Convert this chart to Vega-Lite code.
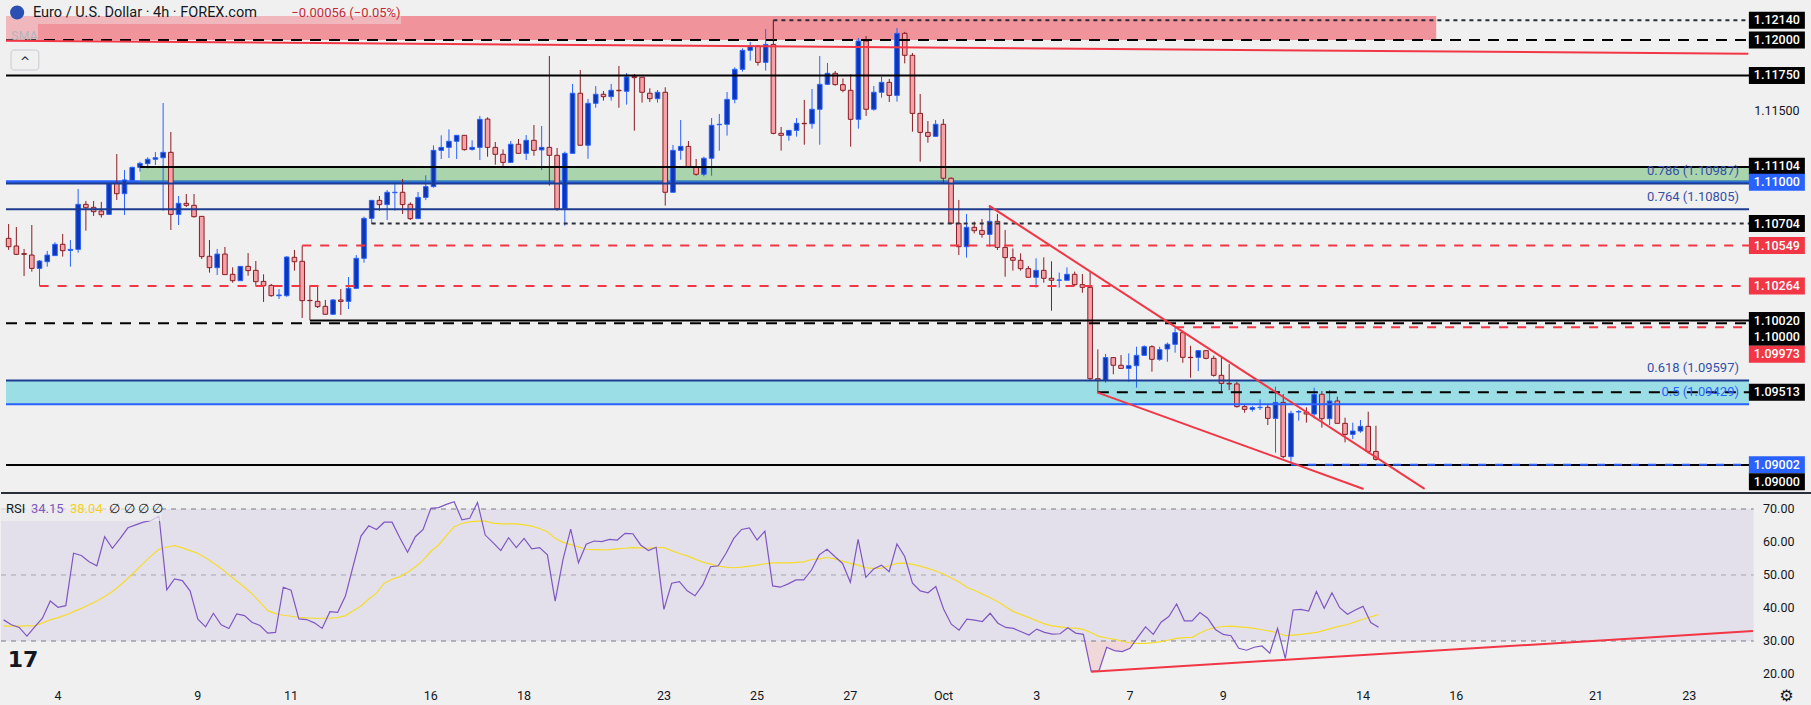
{
"$schema":"https://vega.github.io/schema/vega-lite/v6.json",
"background":"#f0f0f0",
"padding":0,
"spacing":0,
"config":{"view":{"stroke":null},"axis":{"disable":true},"text":{"font":"Roboto"}},
"datasets":{
"candles":[
{"t":-7,"o":1.106,"h":1.10701,"l":1.10518,"c":1.10541},{"t":-6,"o":1.10546,"h":1.1068,"l":1.10482,"c":1.10487},{"t":-5,"o":1.10492,"h":1.10525,"l":1.10334,"c":1.10487},{"t":-4,"o":1.10482,"h":1.10694,"l":1.10365,"c":1.10388},{"t":-3,"o":1.10388,"h":1.10447,"l":1.10264,"c":1.1044},{"t":-2,"o":1.10435,"h":1.10511,"l":1.104,"c":1.10482},{"t":-1,"o":1.10478,"h":1.10572,"l":1.10478,"c":1.10558},{"t":0,"o":1.10558,"h":1.10631,"l":1.10471,"c":1.10513},{"t":1,"o":1.10515,"h":1.10588,"l":1.104,"c":1.10522},{"t":2,"o":1.10522,"h":1.10948,"l":1.10499,"c":1.1084},{"t":3,"o":1.1084,"h":1.10864,"l":1.10654,"c":1.10816},{"t":4,"o":1.10819,"h":1.10864,"l":1.10758,"c":1.10788},{"t":5,"o":1.10793,"h":1.10857,"l":1.10746,"c":1.10767},{"t":6,"o":1.10769,"h":1.11,"l":1.10769,"c":1.10988},{"t":7,"o":1.10988,"h":1.11195,"l":1.10871,"c":1.10915},{"t":8,"o":1.10915,"h":1.11082,"l":1.10765,"c":1.11012},{"t":9,"o":1.11009,"h":1.11106,"l":1.11009,"c":1.11101},{"t":10,"o":1.11101,"h":1.11141,"l":1.11071,"c":1.11129},{"t":11,"o":1.11127,"h":1.11172,"l":1.11094,"c":1.11158},{"t":12,"o":1.11158,"h":1.11209,"l":1.11118,"c":1.11169},{"t":13,"o":1.11169,"h":1.11555,"l":1.10795,"c":1.11207},{"t":14,"o":1.11207,"h":1.11351,"l":1.10659,"c":1.10769},{"t":15,"o":1.10769,"h":1.10899,"l":1.10694,"c":1.10847},{"t":16,"o":1.10847,"h":1.10913,"l":1.10821,"c":1.10833},{"t":17,"o":1.10833,"h":1.10913,"l":1.10746,"c":1.10753},{"t":18,"o":1.10755,"h":1.10755,"l":1.10454,"c":1.10471},{"t":19,"o":1.10473,"h":1.10588,"l":1.10358,"c":1.10393},{"t":20,"o":1.10393,"h":1.10525,"l":1.10341,"c":1.10489},{"t":21,"o":1.10489,"h":1.10539,"l":1.10344,"c":1.10344},{"t":22,"o":1.10346,"h":1.10395,"l":1.10287,"c":1.10301},{"t":23,"o":1.10301,"h":1.10402,"l":1.10301,"c":1.10402},{"t":24,"o":1.10402,"h":1.10496,"l":1.10336,"c":1.10372},{"t":25,"o":1.10374,"h":1.1044,"l":1.10266,"c":1.10294},{"t":26,"o":1.10296,"h":1.10346,"l":1.10151,"c":1.10266},{"t":27,"o":1.10268,"h":1.10278,"l":1.10188,"c":1.10195},{"t":28,"o":1.10195,"h":1.10242,"l":1.10172,"c":1.102},{"t":29,"o":1.10195,"h":1.10475,"l":1.10188,"c":1.10468},{"t":30,"o":1.10466,"h":1.10518,"l":1.10372,"c":1.10435},{"t":31,"o":1.10438,"h":1.10548,"l":1.10038,"c":1.1016},{"t":32,"o":1.10162,"h":1.10266,"l":1.10024,"c":1.1016},{"t":33,"o":1.10155,"h":1.10264,"l":1.10108,"c":1.10118},{"t":34,"o":1.1012,"h":1.10165,"l":1.10059,"c":1.10064},{"t":35,"o":1.10064,"h":1.10172,"l":1.10059,"c":1.10165},{"t":36,"o":1.10165,"h":1.10242,"l":1.10059,"c":1.10155},{"t":37,"o":1.10155,"h":1.10327,"l":1.10101,"c":1.10247},{"t":38,"o":1.10247,"h":1.10482,"l":1.10247,"c":1.10459},{"t":39,"o":1.10459,"h":1.10753,"l":1.10428,"c":1.10741},{"t":40,"o":1.10741,"h":1.10868,"l":1.10701,"c":1.10868},{"t":41,"o":1.10868,"h":1.10899,"l":1.10795,"c":1.10838},{"t":42,"o":1.10838,"h":1.10941,"l":1.10729,"c":1.10925},{"t":43,"o":1.10922,"h":1.11,"l":1.10795,"c":1.10925},{"t":44,"o":1.10925,"h":1.11019,"l":1.10772,"c":1.10838},{"t":45,"o":1.1084,"h":1.10854,"l":1.10729,"c":1.10739},{"t":46,"o":1.10739,"h":1.10927,"l":1.10739,"c":1.10889},{"t":47,"o":1.10889,"h":1.11045,"l":1.1087,"c":1.10965},{"t":48,"o":1.10965,"h":1.11256,"l":1.10958,"c":1.11221},{"t":49,"o":1.11221,"h":1.11327,"l":1.1116,"c":1.11242},{"t":50,"o":1.11242,"h":1.11369,"l":1.11167,"c":1.11285},{"t":51,"o":1.11285,"h":1.11327,"l":1.1116,"c":1.11327},{"t":52,"o":1.11327,"h":1.11327,"l":1.11219,"c":1.11226},{"t":53,"o":1.11228,"h":1.11292,"l":1.11219,"c":1.11242},{"t":54,"o":1.11242,"h":1.11464,"l":1.11153,"c":1.1144},{"t":55,"o":1.11442,"h":1.11454,"l":1.11176,"c":1.11242},{"t":56,"o":1.11242,"h":1.1128,"l":1.1112,"c":1.11193},{"t":57,"o":1.11193,"h":1.11228,"l":1.11111,"c":1.11136},{"t":58,"o":1.11136,"h":1.11287,"l":1.11136,"c":1.11264},{"t":59,"o":1.11264,"h":1.11301,"l":1.112,"c":1.112},{"t":60,"o":1.112,"h":1.11329,"l":1.11153,"c":1.11292},{"t":61,"o":1.11292,"h":1.114,"l":1.11183,"c":1.11221},{"t":62,"o":1.11224,"h":1.11393,"l":1.11082,"c":1.11242},{"t":63,"o":1.11242,"h":1.11887,"l":1.10972,"c":1.11186},{"t":64,"o":1.11186,"h":1.11238,"l":1.10795,"c":1.10809},{"t":65,"o":1.10809,"h":1.11212,"l":1.10689,"c":1.112},{"t":66,"o":1.112,"h":1.1169,"l":1.112,"c":1.11624},{"t":67,"o":1.11624,"h":1.11788,"l":1.11257,"c":1.11257},{"t":68,"o":1.11257,"h":1.11584,"l":1.11162,"c":1.11553},{"t":69,"o":1.11553,"h":1.11675,"l":1.11522,"c":1.11617},{"t":70,"o":1.11617,"h":1.1164,"l":1.11572,"c":1.116},{"t":71,"o":1.116,"h":1.1169,"l":1.11572,"c":1.11645},{"t":72,"o":1.11645,"h":1.11817,"l":1.11522,"c":1.11642},{"t":73,"o":1.11638,"h":1.11767,"l":1.11544,"c":1.11739},{"t":74,"o":1.11741,"h":1.1176,"l":1.1136,"c":1.11734},{"t":75,"o":1.11737,"h":1.11737,"l":1.11558,"c":1.11631},{"t":76,"o":1.11624,"h":1.11659,"l":1.11562,"c":1.11586},{"t":77,"o":1.11586,"h":1.11647,"l":1.11558,"c":1.11631},{"t":78,"o":1.11631,"h":1.11666,"l":1.10831,"c":1.10925},{"t":79,"o":1.10925,"h":1.11259,"l":1.10925,"c":1.11221},{"t":80,"o":1.11221,"h":1.11435,"l":1.11155,"c":1.11249},{"t":81,"o":1.11249,"h":1.11287,"l":1.11106,"c":1.11106},{"t":82,"o":1.11106,"h":1.1116,"l":1.11042,"c":1.11052},{"t":83,"o":1.11052,"h":1.11176,"l":1.11038,"c":1.11165},{"t":84,"o":1.11165,"h":1.11449,"l":1.11042,"c":1.11398},{"t":85,"o":1.11402,"h":1.11478,"l":1.11219,"c":1.11405},{"t":86,"o":1.11405,"h":1.11633,"l":1.11325,"c":1.11581},{"t":87,"o":1.11581,"h":1.11807,"l":1.11553,"c":1.11793},{"t":88,"o":1.11793,"h":1.11941,"l":1.11777,"c":1.11927},{"t":89,"o":1.11927,"h":1.11986,"l":1.11854,"c":1.11958},{"t":90,"o":1.11958,"h":1.11965,"l":1.11819,"c":1.11842},{"t":91,"o":1.11842,"h":1.12078,"l":1.11784,"c":1.11969},{"t":92,"o":1.11969,"h":1.1214,"l":1.11334,"c":1.11341},{"t":93,"o":1.11341,"h":1.11386,"l":1.11219,"c":1.11327},{"t":94,"o":1.11327,"h":1.11362,"l":1.11289,"c":1.11362},{"t":95,"o":1.11362,"h":1.11449,"l":1.11318,"c":1.11412},{"t":96,"o":1.11412,"h":1.11577,"l":1.11261,"c":1.11409},{"t":97,"o":1.11409,"h":1.11654,"l":1.11374,"c":1.11511},{"t":98,"o":1.11511,"h":1.11887,"l":1.11261,"c":1.11687},{"t":99,"o":1.11687,"h":1.11838,"l":1.11682,"c":1.11765},{"t":100,"o":1.11765,"h":1.11781,"l":1.11678,"c":1.11685},{"t":101,"o":1.11685,"h":1.11729,"l":1.11631,"c":1.11645},{"t":102,"o":1.11645,"h":1.11758,"l":1.11247,"c":1.1144},{"t":103,"o":1.1144,"h":1.12014,"l":1.11374,"c":1.11993},{"t":104,"o":1.11993,"h":1.12028,"l":1.11464,"c":1.11511},{"t":105,"o":1.11511,"h":1.11675,"l":1.11501,"c":1.11631},{"t":106,"o":1.11631,"h":1.11741,"l":1.11593,"c":1.11701},{"t":107,"o":1.11701,"h":1.11725,"l":1.11562,"c":1.11609},{"t":108,"o":1.11609,"h":1.12085,"l":1.11565,"c":1.12047},{"t":109,"o":1.12047,"h":1.12057,"l":1.11835,"c":1.11892},{"t":110,"o":1.11892,"h":1.11908,"l":1.11353,"c":1.11482},{"t":111,"o":1.11482,"h":1.11619,"l":1.11141,"c":1.11348},{"t":112,"o":1.11348,"h":1.11428,"l":1.11275,"c":1.1132},{"t":113,"o":1.1132,"h":1.11435,"l":1.11318,"c":1.11405},{"t":114,"o":1.11405,"h":1.11442,"l":1.10984,"c":1.11024},{"t":115,"o":1.11024,"h":1.1103,"l":1.107,"c":1.10706},{"t":116,"o":1.10706,"h":1.10871,"l":1.10482,"c":1.10541},{"t":117,"o":1.10541,"h":1.10772,"l":1.10464,"c":1.10678},{"t":118,"o":1.10678,"h":1.10718,"l":1.10635,"c":1.10654},{"t":119,"o":1.10656,"h":1.10736,"l":1.10605,"c":1.10628},{"t":120,"o":1.10628,"h":1.10831,"l":1.10541,"c":1.1072},{"t":121,"o":1.1072,"h":1.10772,"l":1.10518,"c":1.10536},{"t":122,"o":1.10536,"h":1.10659,"l":1.10329,"c":1.10464},{"t":123,"o":1.10464,"h":1.10529,"l":1.10372,"c":1.10445},{"t":124,"o":1.10445,"h":1.10494,"l":1.10372,"c":1.10386},{"t":125,"o":1.10386,"h":1.10405,"l":1.10325,"c":1.10325},{"t":126,"o":1.10325,"h":1.10459,"l":1.10252,"c":1.10374},{"t":127,"o":1.10374,"h":1.10466,"l":1.10287,"c":1.10318},{"t":128,"o":1.10318,"h":1.10438,"l":1.10089,"c":1.10304},{"t":129,"o":1.10304,"h":1.10358,"l":1.10252,"c":1.10306},{"t":130,"o":1.10304,"h":1.10395,"l":1.10304,"c":1.10346},{"t":131,"o":1.10346,"h":1.10365,"l":1.10264,"c":1.10273},{"t":132,"o":1.10273,"h":1.10348,"l":1.10216,"c":1.10254},{"t":133,"o":1.10254,"h":1.10365,"l":1.096,"c":1.09609},{"t":134,"o":1.09609,"h":1.09816,"l":1.09513,"c":1.09598},{"t":135,"o":1.09598,"h":1.09784,"l":1.09581,"c":1.09758},{"t":136,"o":1.09758,"h":1.09758,"l":1.0964,"c":1.09704},{"t":137,"o":1.09704,"h":1.09776,"l":1.09682,"c":1.09682},{"t":138,"o":1.09682,"h":1.09788,"l":1.09588,"c":1.09701},{"t":139,"o":1.09701,"h":1.09835,"l":1.09546,"c":1.09774},{"t":140,"o":1.09774,"h":1.09845,"l":1.09772,"c":1.09835},{"t":141,"o":1.09835,"h":1.09845,"l":1.09659,"c":1.09746},{"t":142,"o":1.09746,"h":1.09835,"l":1.09736,"c":1.09814},{"t":143,"o":1.09819,"h":1.09864,"l":1.09729,"c":1.09852},{"t":144,"o":1.09852,"h":1.09973,"l":1.09793,"c":1.09934},{"t":145,"o":1.09934,"h":1.09948,"l":1.09722,"c":1.0976},{"t":146,"o":1.0976,"h":1.09842,"l":1.09616,"c":1.09758},{"t":147,"o":1.0976,"h":1.09812,"l":1.09663,"c":1.09807},{"t":148,"o":1.09807,"h":1.09812,"l":1.09746,"c":1.09753},{"t":149,"o":1.09753,"h":1.09772,"l":1.09624,"c":1.09633},{"t":150,"o":1.09633,"h":1.09765,"l":1.09518,"c":1.09576},{"t":151,"o":1.09576,"h":1.09713,"l":1.09529,"c":1.09572},{"t":152,"o":1.09572,"h":1.09588,"l":1.09405,"c":1.09412},{"t":153,"o":1.09412,"h":1.09428,"l":1.09369,"c":1.09393},{"t":154,"o":1.09393,"h":1.09416,"l":1.09377,"c":1.09405},{"t":155,"o":1.09405,"h":1.09464,"l":1.09388,"c":1.09407},{"t":156,"o":1.09407,"h":1.09423,"l":1.09282,"c":1.09329},{"t":157,"o":1.09329,"h":1.09553,"l":1.09087,"c":1.09442},{"t":158,"o":1.09442,"h":1.09501,"l":1.09047,"c":1.09059},{"t":159,"o":1.09059,"h":1.09383,"l":1.09002,"c":1.09365},{"t":160,"o":1.09374,"h":1.09388,"l":1.09313,"c":1.09377},{"t":161,"o":1.09374,"h":1.09407,"l":1.09299,"c":1.0936},{"t":162,"o":1.0936,"h":1.09546,"l":1.09329,"c":1.09499},{"t":163,"o":1.09499,"h":1.09522,"l":1.09264,"c":1.09327},{"t":164,"o":1.09327,"h":1.09529,"l":1.09282,"c":1.09452},{"t":165,"o":1.09452,"h":1.09482,"l":1.09294,"c":1.09294},{"t":166,"o":1.09294,"h":1.09334,"l":1.0916,"c":1.09216},{"t":167,"o":1.09216,"h":1.09299,"l":1.09183,"c":1.0924},{"t":168,"o":1.0924,"h":1.09318,"l":1.09228,"c":1.09273},{"t":169,"o":1.09273,"h":1.09376,"l":1.09082,"c":1.09096},{"t":170,"o":1.09096,"h":1.09277,"l":1.09031,"c":1.0904}
],
"rsi":[
{"t":-7,"rsi":36.4,"ma":34.5},{"t":-6,"rsi":34.9,"ma":34.5},{"t":-5,"rsi":34.1,"ma":34.5},{"t":-4,"rsi":31.5,"ma":34.6},{"t":-3,"rsi":34.3,"ma":34.6},{"t":-2,"rsi":36.9,"ma":35.5},{"t":-1,"rsi":42.1,"ma":36.4},{"t":0,"rsi":40.2,"ma":37.1},{"t":1,"rsi":40.7,"ma":37.9},{"t":2,"rsi":56.6,"ma":38.9},{"t":3,"rsi":55.9,"ma":39.9},{"t":4,"rsi":54.0,"ma":41.0},{"t":5,"rsi":52.8,"ma":42.1},{"t":6,"rsi":61.6,"ma":43.5},{"t":7,"rsi":58.1,"ma":45.0},{"t":8,"rsi":61.1,"ma":46.9},{"t":9,"rsi":64.3,"ma":49.0},{"t":10,"rsi":65.2,"ma":51.3},{"t":11,"rsi":66.0,"ma":53.6},{"t":12,"rsi":66.5,"ma":55.8},{"t":13,"rsi":67.8,"ma":57.8},{"t":14,"rsi":45.5,"ma":58.4},{"t":15,"rsi":48.8,"ma":58.9},{"t":16,"rsi":48.3,"ma":58.2},{"t":17,"rsi":45.2,"ma":57.4},{"t":18,"rsi":36.6,"ma":56.5},{"t":19,"rsi":34.3,"ma":55.2},{"t":20,"rsi":38.4,"ma":53.6},{"t":21,"rsi":34.9,"ma":52.0},{"t":22,"rsi":33.8,"ma":50.1},{"t":23,"rsi":38.2,"ma":48.2},{"t":24,"rsi":37.7,"ma":46.3},{"t":25,"rsi":35.6,"ma":44.2},{"t":26,"rsi":34.7,"ma":41.8},{"t":27,"rsi":32.4,"ma":39.2},{"t":28,"rsi":32.6,"ma":38.3},{"t":29,"rsi":46.3,"ma":37.8},{"t":30,"rsi":45.4,"ma":37.5},{"t":31,"rsi":36.7,"ma":37.2},{"t":32,"rsi":36.5,"ma":37.0},{"t":33,"rsi":35.5,"ma":36.9},{"t":34,"rsi":33.8,"ma":36.9},{"t":35,"rsi":38.9,"ma":36.9},{"t":36,"rsi":38.7,"ma":37.1},{"t":37,"rsi":43.6,"ma":37.7},{"t":38,"rsi":52.8,"ma":39.2},{"t":39,"rsi":61.8,"ma":40.6},{"t":40,"rsi":64.9,"ma":42.7},{"t":41,"rsi":63.8,"ma":44.5},{"t":42,"rsi":66.0,"ma":47.5},{"t":43,"rsi":66.0,"ma":48.7},{"t":44,"rsi":61.3,"ma":49.5},{"t":45,"rsi":56.9,"ma":50.8},{"t":46,"rsi":61.6,"ma":52.5},{"t":47,"rsi":63.8,"ma":54.5},{"t":48,"rsi":70.2,"ma":57.2},{"t":49,"rsi":70.4,"ma":59.1},{"t":50,"rsi":71.4,"ma":62.0},{"t":51,"rsi":72.2,"ma":64.6},{"t":52,"rsi":66.7,"ma":65.6},{"t":53,"rsi":67.2,"ma":66.1},{"t":54,"rsi":72.0,"ma":66.3},{"t":55,"rsi":62.1,"ma":66.3},{"t":56,"rsi":59.8,"ma":65.7},{"t":57,"rsi":57.4,"ma":65.5},{"t":58,"rsi":61.3,"ma":65.5},{"t":59,"rsi":58.3,"ma":65.5},{"t":60,"rsi":61.1,"ma":65.2},{"t":61,"rsi":57.9,"ma":64.8},{"t":62,"rsi":58.3,"ma":64.1},{"t":63,"rsi":56.1,"ma":63.1},{"t":64,"rsi":42.1,"ma":61.1},{"t":65,"rsi":54.6,"ma":59.9},{"t":66,"rsi":63.9,"ma":59.2},{"t":67,"rsi":53.7,"ma":58.5},{"t":68,"rsi":59.3,"ma":57.8},{"t":69,"rsi":60.3,"ma":57.7},{"t":70,"rsi":60.1,"ma":57.6},{"t":71,"rsi":60.8,"ma":57.7},{"t":72,"rsi":60.6,"ma":57.9},{"t":73,"rsi":62.6,"ma":58.1},{"t":74,"rsi":62.5,"ma":58.3},{"t":75,"rsi":59.1,"ma":58.2},{"t":76,"rsi":57.4,"ma":58.1},{"t":77,"rsi":58.4,"ma":58.3},{"t":78,"rsi":39.6,"ma":58.3},{"t":79,"rsi":47.5,"ma":57.4},{"t":80,"rsi":48.0,"ma":56.5},{"t":81,"rsi":45.2,"ma":55.8},{"t":82,"rsi":43.7,"ma":54.8},{"t":83,"rsi":47.0,"ma":53.9},{"t":84,"rsi":52.5,"ma":53.3},{"t":85,"rsi":52.8,"ma":52.7},{"t":86,"rsi":56.6,"ma":52.4},{"t":87,"rsi":61.1,"ma":52.2},{"t":88,"rsi":63.8,"ma":52.4},{"t":89,"rsi":64.3,"ma":52.7},{"t":90,"rsi":60.6,"ma":53.0},{"t":91,"rsi":63.3,"ma":53.4},{"t":92,"rsi":46.7,"ma":53.7},{"t":93,"rsi":46.3,"ma":53.7},{"t":94,"rsi":47.3,"ma":53.7},{"t":95,"rsi":48.5,"ma":53.8},{"t":96,"rsi":48.5,"ma":54.0},{"t":97,"rsi":51.5,"ma":54.7},{"t":98,"rsi":56.1,"ma":54.9},{"t":99,"rsi":57.8,"ma":55.3},{"t":100,"rsi":55.6,"ma":54.9},{"t":101,"rsi":53.5,"ma":54.2},{"t":102,"rsi":47.8,"ma":53.5},{"t":103,"rsi":60.8,"ma":53.0},{"t":104,"rsi":49.3,"ma":52.2},{"t":105,"rsi":51.8,"ma":52.0},{"t":106,"rsi":53.0,"ma":52.1},{"t":107,"rsi":51.0,"ma":52.8},{"t":108,"rsi":59.4,"ma":53.5},{"t":109,"rsi":55.6,"ma":53.6},{"t":110,"rsi":47.5,"ma":53.2},{"t":111,"rsi":45.2,"ma":52.7},{"t":112,"rsi":44.6,"ma":52.0},{"t":113,"rsi":46.5,"ma":51.2},{"t":114,"rsi":39.7,"ma":50.3},{"t":115,"rsi":35.1,"ma":49.1},{"t":116,"rsi":33.3,"ma":47.9},{"t":117,"rsi":36.6,"ma":46.3},{"t":118,"rsi":36.3,"ma":45.3},{"t":119,"rsi":35.9,"ma":44.2},{"t":120,"rsi":38.4,"ma":43.1},{"t":121,"rsi":35.4,"ma":41.9},{"t":122,"rsi":34.1,"ma":40.4},{"t":123,"rsi":33.8,"ma":38.9},{"t":124,"rsi":32.8,"ma":38.0},{"t":125,"rsi":31.8,"ma":37.1},{"t":126,"rsi":33.6,"ma":36.1},{"t":127,"rsi":32.6,"ma":35.2},{"t":128,"rsi":32.1,"ma":34.6},{"t":129,"rsi":32.2,"ma":34.3},{"t":130,"rsi":34.0,"ma":34.0},{"t":131,"rsi":32.4,"ma":33.9},{"t":132,"rsi":32.0,"ma":33.5},{"t":133,"rsi":20.9,"ma":32.5},{"t":134,"rsi":20.9,"ma":31.4},{"t":135,"rsi":28.1,"ma":30.9},{"t":136,"rsi":27.1,"ma":30.5},{"t":137,"rsi":26.8,"ma":30.0},{"t":138,"rsi":27.8,"ma":29.4},{"t":139,"rsi":31.1,"ma":29.3},{"t":140,"rsi":34.3,"ma":29.3},{"t":141,"rsi":32.0,"ma":29.5},{"t":142,"rsi":35.7,"ma":29.8},{"t":143,"rsi":37.4,"ma":30.3},{"t":144,"rsi":41.2,"ma":30.8},{"t":145,"rsi":36.1,"ma":31.0},{"t":146,"rsi":36.1,"ma":31.1},{"t":147,"rsi":38.6,"ma":32.4},{"t":148,"rsi":36.9,"ma":33.5},{"t":149,"rsi":33.5,"ma":34.1},{"t":150,"rsi":32.0,"ma":34.4},{"t":151,"rsi":31.6,"ma":34.5},{"t":152,"rsi":27.8,"ma":34.3},{"t":153,"rsi":27.2,"ma":34.1},{"t":154,"rsi":28.1,"ma":33.8},{"t":155,"rsi":28.5,"ma":33.4},{"t":156,"rsi":26.3,"ma":33.0},{"t":157,"rsi":33.8,"ma":32.5},{"t":158,"rsi":24.7,"ma":31.6},{"t":159,"rsi":39.4,"ma":31.8},{"t":160,"rsi":39.6,"ma":32.0},{"t":161,"rsi":39.1,"ma":32.3},{"t":162,"rsi":45.0,"ma":32.6},{"t":163,"rsi":39.9,"ma":33.2},{"t":164,"rsi":44.6,"ma":33.9},{"t":165,"rsi":40.1,"ma":34.5},{"t":166,"rsi":38.1,"ma":35.0},{"t":167,"rsi":39.4,"ma":35.8},{"t":168,"rsi":40.5,"ma":36.6},{"t":169,"rsi":35.6,"ma":37.3},{"t":170,"rsi":34.15,"ma":38.04}
],
"os":[{"t":132.2,"r":30},{"t":133,"r":20.9},{"t":134,"r":20.9},{"t":135,"r":28.1},{"t":136,"r":27.1},{"t":137,"r":26.8},{"t":138,"r":27.8},{"t":138.7,"r":30}],
"zones":[{"name":"supply","t1":-7.34,"t2":177.8,"p1":1.12,"p2":1.1217},{"name":"green","t1":10,"t2":218.3,"p1":1.11,"p2":1.11104},{"name":"cyan","t1":-7.34,"t2":218.3,"p1":1.09429,"p2":1.09597}],
"linesUnder":[{"kind":"blue","p":1.11,"t1":-7.34,"t2":218.3}],
"lines":[
{"kind":"solid","p":1.1175,"t1":-7.34,"t2":218.3},{"kind":"solid","p":1.11104,"t1":10,"t2":218.3},{"kind":"solid","p":1.1002,"t1":32,"t2":218.3},{"kind":"solid","p":1.09,"t1":-7.34,"t2":218.3},
{"kind":"major","p":1.12,"t1":-7.34,"t2":218.3},{"kind":"major","p":1.1,"t1":-7.34,"t2":218.3},{"kind":"major","p":1.09513,"t1":134,"t2":218.3},
{"kind":"minor","p":1.10704,"t1":40,"t2":218.3},{"kind":"minor","p":1.1214,"t1":92,"t2":218.3},
{"kind":"resist","p":1.10549,"t1":31,"t2":218.3},{"kind":"resist","p":1.10264,"t1":-3,"t2":218.3},{"kind":"resist","p":1.09973,"t1":144,"t2":218.3},
{"kind":"fibLine","p":1.10987,"t1":-7.34,"t2":218.3},{"kind":"fibLine","p":1.10805,"t1":-7.34,"t2":218.3},{"kind":"fibLine","p":1.09597,"t1":-7.34,"t2":218.3},
{"kind":"fibMid","p":1.09429,"t1":-7.34,"t2":218.3},
{"kind":"support","p":1.09002,"t1":159,"t2":218.3}
],
"trends":[{"name":"top","t1":-7.34,"p1":1.11995,"t2":218.2,"p2":1.11903},{"name":"upper","t1":119.9,"p1":1.10831,"t2":176.3,"p2":1.08831},{"name":"lower","t1":133.9,"p1":1.09513,"t2":168.4,"p2":1.08831}],
"fibs":[{"lvl":"0.786","label":"0.786 (1.10987)","p":1.10987},{"lvl":"0.764","label":"0.764 (1.10805)","p":1.10805},{"lvl":"0.618","label":"0.618 (1.09597)","p":1.09597},{"lvl":"0.5","label":"0.5 (1.09429)","p":1.09429}],
"prices":[
{"label":"1.12140","p":1.1214,"kind":"level"},{"label":"1.12000","p":1.12,"kind":"level"},{"label":"1.11750","p":1.1175,"kind":"level"},{"label":"1.11104","p":1.11108,"kind":"level"},{"label":"1.11000","p":1.10996,"kind":"blue"},{"label":"1.10704","p":1.10704,"kind":"level"},{"label":"1.10549","p":1.10549,"kind":"red"},{"label":"1.10264","p":1.10264,"kind":"red"},{"label":"1.10020","p":1.1002,"kind":"level"},{"label":"1.10000","p":1.09901,"kind":"level"},{"label":"1.09973","p":1.09781,"kind":"red"},{"label":"1.09513","p":1.09513,"kind":"level"},{"label":"1.09002","p":1.09002,"kind":"blue"},{"label":"1.09000","p":1.08882,"kind":"level"}
],
"rsiTicks":[{"v":70,"label":"70.00"},{"v":60,"label":"60.00"},{"v":50,"label":"50.00"},{"v":40,"label":"40.00"},{"v":30,"label":"30.00"},{"v":20,"label":"20.00"}],
"dates":[{"t":0,"label":"4"},{"t":18,"label":"9"},{"t":30,"label":"11"},{"t":48,"label":"16"},{"t":60,"label":"18"},{"t":78,"label":"23"},{"t":90,"label":"25"},{"t":102,"label":"27"},{"t":114,"label":"Oct"},{"t":126,"label":"3"},{"t":138,"label":"7"},{"t":150,"label":"9"},{"t":168,"label":"14"},{"t":180,"label":"16"},{"t":198,"label":"21"},{"t":210,"label":"23"}]
},
"vconcat":[
{"width":1811,"height":490,
"resolve":{"scale":{"color":"independent","fill":"independent","fillOpacity":"independent","strokeWidth":"independent","strokeDash":"independent"}},
"layer":[
{"data":{"name":"linesUnder"},"mark":{"type":"rule","strokeWidth":3,"color":"#2962ff"},
 "encoding":{"x":{"field":"t1","type":"quantitative","scale":{"domain":[-7.34,225.8],"nice":false,"zero":false},"axis":null},"x2":{"field":"t2"},"y":{"field":"p","type":"quantitative","scale":{"domain":[1.088236,1.122823],"nice":false,"zero":false},"axis":null}}},
{"data":{"name":"zones"},"mark":{"type":"rect"},
 "encoding":{"x":{"field":"t1","type":"quantitative","scale":{"domain":[-7.34,225.8],"nice":false,"zero":false},"axis":null},"x2":{"field":"t2"},"y":{"field":"p1","type":"quantitative","scale":{"domain":[1.088236,1.122823],"nice":false,"zero":false},"axis":null},"y2":{"field":"p2"},
 "fill":{"field":"name","type":"nominal","scale":{"domain":["supply","green","cyan"],"range":["#f23645","#4caf50","#00bcd4"]},"legend":null},
 "fillOpacity":{"field":"name","type":"ordinal","scale":{"domain":["supply","green","cyan"],"range":[0.5,0.35,0.34]},"legend":null}}},
{"data":{"name":"candles"},"mark":{"type":"rule","strokeWidth":1},
 "encoding":{"x":{"field":"t","type":"quantitative","scale":{"domain":[-7.34,225.8],"nice":false,"zero":false},"axis":null},"y":{"field":"l","type":"quantitative","scale":{"domain":[1.088236,1.122823],"nice":false,"zero":false},"axis":null},"y2":{"field":"h"},
 "color":{"condition":{"test":"datum.c >= datum.o","value":"#2962ff"},"value":"#8b1d24"}}},
{"data":{"name":"candles"},"mark":{"type":"bar","width":4.6,"strokeWidth":1},
 "encoding":{"x":{"field":"t","type":"quantitative","scale":{"domain":[-7.34,225.8],"nice":false,"zero":false},"axis":null},"y":{"field":"o","type":"quantitative","scale":{"domain":[1.088236,1.122823],"nice":false,"zero":false},"axis":null},"y2":{"field":"c"},
 "fill":{"condition":{"test":"datum.c >= datum.o","value":"#0f37b4"},"value":"#f5a3a8"},
 "stroke":{"condition":{"test":"datum.c >= datum.o","value":"#2962ff"},"value":"#8b1d24"}}},
{"data":{"name":"lines"},"mark":{"type":"rule"},
 "encoding":{"x":{"field":"t1","type":"quantitative","scale":{"domain":[-7.34,225.8],"nice":false,"zero":false},"axis":null},"x2":{"field":"t2"},"y":{"field":"p","type":"quantitative","scale":{"domain":[1.088236,1.122823],"nice":false,"zero":false},"axis":null},
 "color":{"field":"kind","type":"nominal","scale":{"domain":["solid","major","minor","resist","fibLine","fibMid","support"],"range":["#000000","#000000","#2a2e39","#f23645","#1c3d8f","#2962ff","#2962ff"]},"legend":null},
 "strokeWidth":{"field":"kind","type":"ordinal","scale":{"domain":["solid","major","minor","resist","fibLine","fibMid","support"],"range":[2,2,1,2,1,3,2]},"legend":null},
 "strokeDash":{"field":"kind","type":"nominal","scale":{"domain":["solid","major","minor","resist","fibLine","fibMid","support"],"range":[[1,0],[11,8],[4,4],[9,9],[1,0],[1,0],[8,9]]},"legend":null}}},
{"data":{"values":[{}]},"mark":{"type":"rule","strokeWidth":1,"color":"#7a2a2a"},
 "encoding":{"x":{"datum":92,"type":"quantitative","scale":{"domain":[-7.34,225.8],"nice":false,"zero":false},"axis":null},"y":{"datum":1.12,"type":"quantitative","scale":{"domain":[1.088236,1.122823],"nice":false,"zero":false},"axis":null},"y2":{"datum":1.1214}}},
{"data":{"name":"trends"},"mark":{"type":"rule","strokeWidth":2,"color":"#f23645"},
 "encoding":{"x":{"field":"t1","type":"quantitative","scale":{"domain":[-7.34,225.8],"nice":false,"zero":false},"axis":null},"x2":{"field":"t2"},"y":{"field":"p1","type":"quantitative","scale":{"domain":[1.088236,1.122823],"nice":false,"zero":false},"axis":null},"y2":{"field":"p2"}}},
{"data":{"name":"fibs"},"mark":{"type":"text","align":"right","baseline":"middle","dy":-12.6,"fontSize":13},
 "encoding":{"x":{"datum":217.0,"type":"quantitative","scale":{"domain":[-7.34,225.8],"nice":false,"zero":false},"axis":null},"y":{"field":"p","type":"quantitative","scale":{"domain":[1.088236,1.122823],"nice":false,"zero":false},"axis":null},"text":{"field":"label"},
 "color":{"condition":{"test":"datum.lvl == '0.5'","value":"#2962ff"},"value":"#3451a8"}}},
{"data":{"values":[{}]},"mark":{"type":"rect","color":"#f0f0f0","opacity":0.4},
 "encoding":{"x":{"datum":-7.34,"type":"quantitative","scale":{"domain":[-7.34,225.8],"nice":false,"zero":false},"axis":null},"x2":{"datum":43.8},"y":{"datum":1.122823,"type":"quantitative","scale":{"domain":[1.088236,1.122823],"nice":false,"zero":false},"axis":null},"y2":{"datum":1.12113}}},
{"data":{"values":[{}]},"mark":{"type":"rect","color":"#f0f0f0","opacity":0.4},
 "encoding":{"x":{"datum":-7.34,"type":"quantitative","scale":{"domain":[-7.34,225.8],"nice":false,"zero":false},"axis":null},"x2":{"datum":-3.2},"y":{"datum":1.12113,"type":"quantitative","scale":{"domain":[1.088236,1.122823],"nice":false,"zero":false},"axis":null},"y2":{"datum":1.12003}}},
{"data":{"values":[{}]},"mark":{"type":"rect","fill":"#f0f0f0","stroke":"#c9cbd1","strokeWidth":1,"cornerRadius":3},
 "encoding":{"x":{"datum":-6.69,"type":"quantitative","scale":{"domain":[-7.34,225.8],"nice":false,"zero":false},"axis":null},"x2":{"datum":-3.09},"y":{"datum":1.11929,"type":"quantitative","scale":{"domain":[1.088236,1.122823],"nice":false,"zero":false},"axis":null},"y2":{"datum":1.11788}}},
{"data":{"values":[{}]},"mark":{"type":"text","align":"center","baseline":"middle","fontSize":12,"color":"#131722","font":"DejaVu Sans","dy":2},
 "encoding":{"x":{"datum":-4.89,"type":"quantitative","scale":{"domain":[-7.34,225.8],"nice":false,"zero":false},"axis":null},"y":{"datum":1.11858,"type":"quantitative","scale":{"domain":[1.088236,1.122823],"nice":false,"zero":false},"axis":null},"text":{"value":"^"}}},
{"data":{"name":"prices"},"mark":{"type":"tick","orient":"horizontal","size":56,"thickness":17,"opacity":1},
 "encoding":{"x":{"datum":221.9,"type":"quantitative","scale":{"domain":[-7.34,225.8],"nice":false,"zero":false},"axis":null},"y":{"field":"p","type":"quantitative","scale":{"domain":[1.088236,1.122823],"nice":false,"zero":false},"axis":null},
 "color":{"field":"kind","type":"nominal","scale":{"domain":["level","blue","red"],"range":["#000000","#2962ff","#f23645"]},"legend":null}}},
{"data":{"name":"prices"},"mark":{"type":"text","align":"center","baseline":"middle","fontSize":12.5,"color":"#ffffff","fontWeight":500},
 "encoding":{"x":{"datum":221.9,"type":"quantitative","scale":{"domain":[-7.34,225.8],"nice":false,"zero":false},"axis":null},"y":{"field":"p","type":"quantitative","scale":{"domain":[1.088236,1.122823],"nice":false,"zero":false},"axis":null},"text":{"field":"label"}}},
{"data":{"values":[{}]},"mark":{"type":"text","align":"center","baseline":"middle","fontSize":12.5,"color":"#131722"},
 "encoding":{"x":{"datum":221.9,"type":"quantitative","scale":{"domain":[-7.34,225.8],"nice":false,"zero":false},"axis":null},"y":{"datum":1.115,"type":"quantitative","scale":{"domain":[1.088236,1.122823],"nice":false,"zero":false},"axis":null},"text":{"value":"1.11500"}}},
{"data":{"values":[{}]},"mark":{"type":"point","shape":"circle","size":200,"filled":true,"color":"#2b4fb3","opacity":1},
 "encoding":{"x":{"datum":-5.9,"type":"quantitative","scale":{"domain":[-7.34,225.8],"nice":false,"zero":false},"axis":null},"y":{"datum":1.12194,"type":"quantitative","scale":{"domain":[1.088236,1.122823],"nice":false,"zero":false},"axis":null}}},
{"data":{"values":[{}]},"mark":{"type":"text","align":"left","baseline":"middle","fontSize":14.5,"color":"#131722"},
 "encoding":{"x":{"datum":-3.86,"type":"quantitative","scale":{"domain":[-7.34,225.8],"nice":false,"zero":false},"axis":null},"y":{"datum":1.12191,"type":"quantitative","scale":{"domain":[1.088236,1.122823],"nice":false,"zero":false},"axis":null},"text":{"value":"Euro / U.S. Dollar · 4h · FOREX.com"}}},
{"data":{"values":[{}]},"mark":{"type":"text","align":"left","baseline":"middle","fontSize":13,"color":"#c62833"},
 "encoding":{"x":{"datum":29.6,"type":"quantitative","scale":{"domain":[-7.34,225.8],"nice":false,"zero":false},"axis":null},"y":{"datum":1.12191,"type":"quantitative","scale":{"domain":[1.088236,1.122823],"nice":false,"zero":false},"axis":null},"text":{"value":"−0.00056 (−0.05%)"}}},
{"data":{"values":[{}]},"mark":{"type":"text","align":"left","baseline":"middle","fontSize":12.5,"color":"#b2b5be"},
 "encoding":{"x":{"datum":-6.69,"type":"quantitative","scale":{"domain":[-7.34,225.8],"nice":false,"zero":false},"axis":null},"y":{"datum":1.12025,"type":"quantitative","scale":{"domain":[1.088236,1.122823],"nice":false,"zero":false},"axis":null},"text":{"value":"SMA"}}}
]},
{"width":1811,"height":215,
"resolve":{"scale":{"color":"independent"}},
"layer":[
{"data":{"values":[{}]},"mark":{"type":"rect","color":"#7e57c2","opacity":0.1},
 "encoding":{"x":{"datum":-7.34,"type":"quantitative","scale":{"domain":[-7.34,225.8],"nice":false,"zero":false},"axis":null},"x2":{"datum":218.3},"y":{"datum":30,"type":"quantitative","scale":{"domain":[10,75.15],"nice":false,"zero":false},"axis":null},"y2":{"datum":70}}},
{"data":{"name":"os"},"mark":{"type":"area","color":"#f23645","opacity":0.13},
 "encoding":{"x":{"field":"t","type":"quantitative","scale":{"domain":[-7.34,225.8],"nice":false,"zero":false},"axis":null},"y":{"field":"r","type":"quantitative","scale":{"domain":[10,75.15],"nice":false,"zero":false},"axis":null},"y2":{"datum":30}}},
{"data":{"values":[{"v":70},{"v":30}]},"mark":{"type":"rule","color":"#787b86","strokeWidth":1,"strokeDash":[5,5]},
 "encoding":{"x":{"datum":-7.34,"type":"quantitative","scale":{"domain":[-7.34,225.8],"nice":false,"zero":false},"axis":null},"x2":{"datum":218.3},"y":{"field":"v","type":"quantitative","scale":{"domain":[10,75.15],"nice":false,"zero":false},"axis":null}}},
{"data":{"values":[{"v":50}]},"mark":{"type":"rule","color":"#a3a6af","strokeWidth":1,"strokeDash":[5,5]},
 "encoding":{"x":{"datum":-7.34,"type":"quantitative","scale":{"domain":[-7.34,225.8],"nice":false,"zero":false},"axis":null},"x2":{"datum":218.3},"y":{"field":"v","type":"quantitative","scale":{"domain":[10,75.15],"nice":false,"zero":false},"axis":null}}},
{"data":{"name":"rsi"},"mark":{"type":"line","color":"#f5dc2c","strokeWidth":1.2},
 "encoding":{"x":{"field":"t","type":"quantitative","scale":{"domain":[-7.34,225.8],"nice":false,"zero":false},"axis":null},"y":{"field":"ma","type":"quantitative","scale":{"domain":[10,75.15],"nice":false,"zero":false},"axis":null}}},
{"data":{"name":"rsi"},"mark":{"type":"line","color":"#7e57c2","strokeWidth":1.2},
 "encoding":{"x":{"field":"t","type":"quantitative","scale":{"domain":[-7.34,225.8],"nice":false,"zero":false},"axis":null},"y":{"field":"rsi","type":"quantitative","scale":{"domain":[10,75.15],"nice":false,"zero":false},"axis":null}}},
{"data":{"values":[{}]},"mark":{"type":"rule","color":"#f23645","strokeWidth":2},
 "encoding":{"x":{"datum":133,"type":"quantitative","scale":{"domain":[-7.34,225.8],"nice":false,"zero":false},"axis":null},"x2":{"datum":218.2},"y":{"datum":20.7,"type":"quantitative","scale":{"domain":[10,75.15],"nice":false,"zero":false},"axis":null},"y2":{"datum":33.0}}},
{"data":{"values":[{}]},"mark":{"type":"rule","color":"#2a2e39","strokeWidth":2},
 "encoding":{"x":{"datum":-7.34,"type":"quantitative","scale":{"domain":[-7.34,225.8],"nice":false,"zero":false},"axis":null},"x2":{"datum":225.8},"y":{"datum":74.85,"type":"quantitative","scale":{"domain":[10,75.15],"nice":false,"zero":false},"axis":null}}},
{"data":{"name":"rsiTicks"},"mark":{"type":"text","align":"left","baseline":"middle","fontSize":12.5,"color":"#131722"},
 "encoding":{"x":{"datum":219.5,"type":"quantitative","scale":{"domain":[-7.34,225.8],"nice":false,"zero":false},"axis":null},"y":{"field":"v","type":"quantitative","scale":{"domain":[10,75.15],"nice":false,"zero":false},"axis":null},"text":{"field":"label"}}},
{"data":{"name":"dates"},"mark":{"type":"text","align":"center","baseline":"middle","fontSize":12.5,"color":"#131722"},
 "encoding":{"x":{"field":"t","type":"quantitative","scale":{"domain":[-7.34,225.8],"nice":false,"zero":false},"axis":null},"y":{"datum":13.4,"type":"quantitative","scale":{"domain":[10,75.15],"nice":false,"zero":false},"axis":null},"text":{"field":"label"}}},
{"data":{"values":[{}]},"mark":{"type":"rect","color":"#f0f0f0","opacity":0.7},
 "encoding":{"x":{"datum":-7.34,"type":"quantitative","scale":{"domain":[-7.34,225.8],"nice":false,"zero":false},"axis":null},"x2":{"datum":13.3},"y":{"datum":72.2,"type":"quantitative","scale":{"domain":[10,75.15],"nice":false,"zero":false},"axis":null},"y2":{"datum":66.4}}},
{"data":{"values":[{"t":-6.7,"s":"RSI","k":"a"},{"t":-3.48,"s":"34.15","k":"b"},{"t":1.55,"s":"38.04","k":"c"},{"t":6.6,"s":"∅ ∅ ∅ ∅","k":"a"}]},"mark":{"type":"text","align":"left","baseline":"middle","fontSize":13},
 "encoding":{"x":{"field":"t","type":"quantitative","scale":{"domain":[-7.34,225.8],"nice":false,"zero":false},"axis":null},"y":{"datum":70.05,"type":"quantitative","scale":{"domain":[10,75.15],"nice":false,"zero":false},"axis":null},"text":{"field":"s"},
 "color":{"field":"k","type":"nominal","scale":{"domain":["a","b","c"],"range":["#131722","#7e57c2","#f5d21c"]},"legend":null}}},
{"data":{"values":[{}]},"mark":{"type":"text","align":"center","baseline":"middle","fontSize":22,"fontWeight":900,"color":"#131722","font":"DejaVu Sans"},
 "encoding":{"x":{"datum":-4.5,"type":"quantitative","scale":{"domain":[-7.34,225.8],"nice":false,"zero":false},"axis":null},"y":{"datum":24.3,"type":"quantitative","scale":{"domain":[10,75.15],"nice":false,"zero":false},"axis":null},"text":{"value":"17"}}},
{"data":{"values":[{}]},"mark":{"type":"text","align":"center","baseline":"middle","fontSize":16,"color":"#131722","font":"DejaVu Sans"},
 "encoding":{"x":{"datum":222.5,"type":"quantitative","scale":{"domain":[-7.34,225.8],"nice":false,"zero":false},"axis":null},"y":{"datum":13.4,"type":"quantitative","scale":{"domain":[10,75.15],"nice":false,"zero":false},"axis":null},"text":{"value":"⚙"}}}
]}
]
}
